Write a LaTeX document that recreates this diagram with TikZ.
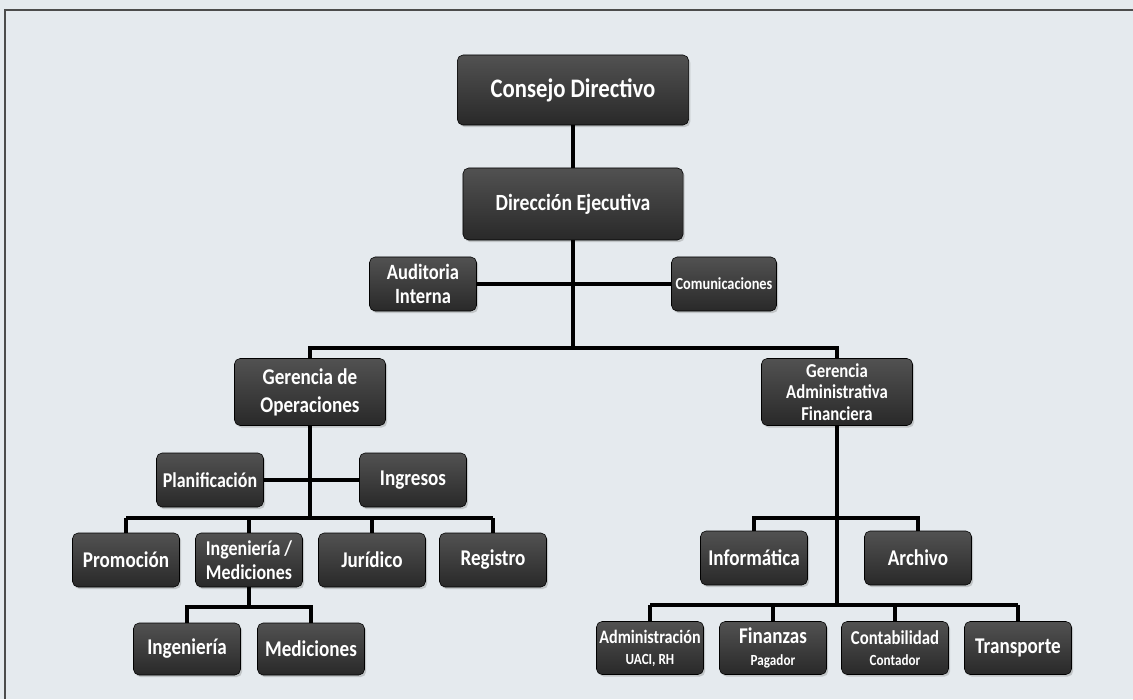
\documentclass[tikz,border=0pt]{standalone}
\usepackage{fontspec}
\setmainfont{Carlito}[FakeStretch=0.85]
\usetikzlibrary{shadows}

\definecolor{fondo}{HTML}{E5EAEE}

\tikzset{
	caja/.style={rectangle, rounded corners=4pt, draw=black, thin,
		top color=black!68, middle color=black!92, bottom color=black!84,
		text=white, align=center, inner sep=0pt,
		font=\bfseries\fontsize{16}{17}\selectfont,
		drop shadow={opacity=0.35, shadow xshift=1.2pt, shadow yshift=-1.5pt},
		minimum width=2.675cm, minimum height=1.35cm},
	cajager/.style={caja, minimum width=3.775cm, minimum height=1.675cm},
	linea/.style={line width=2.2pt, black}
}

\begin{document}
\begin{tikzpicture}[x=0.025cm, y=-0.025cm]
	% background and frame
	\fill[fondo] (0,0) rectangle (1133,699);
	\useasboundingbox (0,0) rectangle (1133,699);
	\draw[black!70, line width=1pt] (5,699) -- (5,10) -- (1133,10);

	% top
	\node[caja, minimum width=5.78cm, minimum height=1.75cm, font=\bfseries\fontsize{19}{21}\selectfont] (consejo) at (573,90) {Consejo Directivo};
	\node[caja, minimum width=5.5cm, minimum height=1.8cm, font=\bfseries\fontsize{16.5}{18}\selectfont] (direccion) at (573,204) {Dirección Ejecutiva};
	\node[caja, font=\bfseries\fontsize{15.5}{17}\selectfont] (auditoria) at (423,284) {Auditoria\\Interna};
	\node[caja, minimum width=2.625cm, font=\bfseries\fontsize{12}{13}\selectfont] (comunic) at (724,284) {Comunicaciones};

	% gerencias
	\node[cajager, font=\bfseries\fontsize{16}{20}\selectfont] (gop) at (310,392) {Gerencia de\\Operaciones};
	\node[cajager, font=\bfseries\fontsize{14}{15.5}\selectfont] (gaf) at (837,392) {Gerencia\\Administrativa\\Financiera};

	% operaciones
	\node[caja, font=\bfseries\fontsize{15}{17}\selectfont] (planif) at (210,480) {Planificación};
	\node[caja] (ingresos) at (413,480) {Ingresos};
	\node[caja] (promo) at (126,560) {Promoción};
	\node[caja, font=\bfseries\fontsize{15}{17}\selectfont] (ingmed) at (249,560) {Ingeniería /\\Mediciones};
	\node[caja] (juridico) at (372,560) {Jurídico};
	\node[caja] (registro) at (493,560) {Registro};
	\node[caja, minimum height=1.3cm] (ingen) at (187,649) {Ingeniería};
	\node[caja, minimum height=1.3cm] (medic) at (311,649) {Mediciones};

	% administrativa financiera
	\node[caja] (informatica) at (754,558) {Informática};
	\node[caja] (archivo) at (918,558) {Archivo};
	\node[caja, minimum height=1.325cm, font=\bfseries\fontsize{13.5}{15}\selectfont] (admin) at (650,648) {Administración\\{\fontsize{11}{12}\selectfont UACI, RH}};
	\node[caja, minimum height=1.325cm, font=\bfseries\fontsize{16}{16}\selectfont] (finanzas) at (773,648) {Finanzas\\{\fontsize{11}{12}\selectfont Pagador}};
	\node[caja, minimum height=1.325cm, font=\bfseries\fontsize{14}{15}\selectfont] (contab) at (895,648) {Contabilidad\\{\fontsize{11}{12}\selectfont Contador}};
	\node[caja, minimum height=1.325cm] (transporte) at (1018,648) {Transporte};

	% bus points
	\coordinate (bus1) at (573,348);
	\coordinate (bus2) at (310,518);
	\coordinate (bus3) at (249,607);
	\coordinate (bus4) at (837,518);
	\coordinate (bus5) at (837,605);

	% lines
	\draw[linea] (consejo) -- (direccion);
	\draw[linea] (direccion) -- (bus1);
	\draw[linea] (auditoria) -- (comunic);
	\draw[linea] (gop) |- (bus1) -| (gaf);

	\draw[linea] (planif) -- (ingresos);
	\draw[linea] (gop) -- (bus2);
	\draw[linea] (promo |- bus2) -- (registro |- bus2);
	\foreach \n in {promo,ingmed,juridico,registro}
		\draw[linea] (\n) -- (\n |- bus2);
	\draw[linea] (ingmed) -- (bus3);
	\draw[linea] (ingen) |- (bus3) -| (medic);

	\draw[linea] (gaf) -- (bus5);
	\draw[linea] (informatica) |- (bus4) -| (archivo);
	\draw[linea] (admin |- bus5) -- (transporte |- bus5);
	\foreach \n in {admin,finanzas,contab,transporte}
		\draw[linea] (\n) -- (\n |- bus5);
\end{tikzpicture}
\end{document}
